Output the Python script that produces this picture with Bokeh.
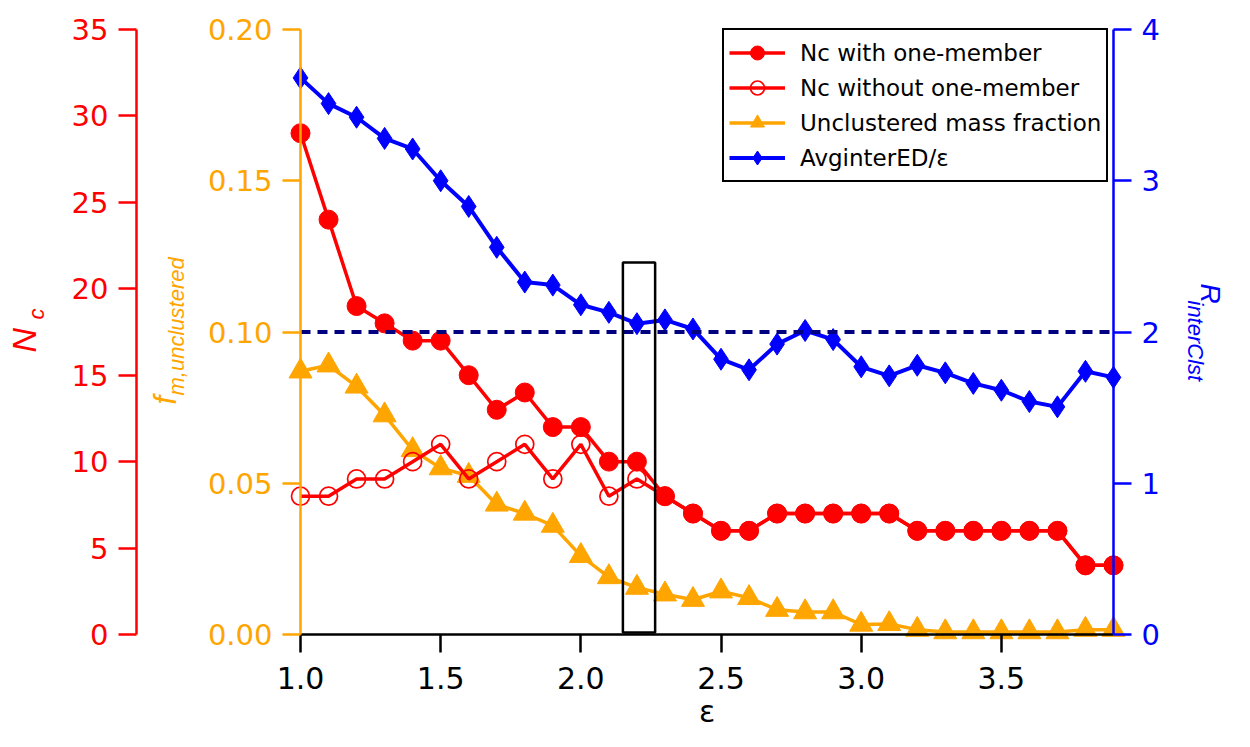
import math
from bokeh.plotting import figure
from bokeh.models import (Range1d, LinearAxis, FixedTicker, PrintfTickFormatter,
                          Label, Legend, LegendItem, BoxAnnotation)
from bokeh.embed import file_html
from bokeh.resources import INLINE

# ---------------- data ----------------
eps = [1.0, 1.1, 1.2, 1.3, 1.4, 1.5, 1.6, 1.7, 1.8, 1.9,
       2.0, 2.1, 2.2, 2.3, 2.4, 2.5, 2.6, 2.7, 2.8, 2.9,
       3.0, 3.1, 3.2, 3.3, 3.4, 3.5, 3.6, 3.7, 3.8, 3.9]
nc_with_one = [29, 24, 19, 18, 17, 17, 15, 13, 14, 12,
               12, 10, 10, 8, 7, 6, 6, 7, 7, 7,
               7, 7, 6, 6, 6, 6, 6, 6, 4, 4]
nc_without_one = [8, 8, 9, 9, 10, 11, 9, 10, 11, 9,
                  11, 8, 9, 8, 7, 6, 6, 7, 7, 7,
                  7, 7, 6, 6, 6, 6, 6, 6, 4, 4]
f_unclustered = [0.087, 0.089, 0.082, 0.0725, 0.061, 0.055, 0.0525, 0.043, 0.040, 0.036,
                 0.026, 0.019, 0.0155, 0.0133, 0.0115, 0.0143, 0.0121, 0.0082, 0.0074, 0.0074,
                 0.0033, 0.0035, 0.0016, 0.0008, 0.0008, 0.0008, 0.0008, 0.0008, 0.0016, 0.0016]
r_interclst = [3.68, 3.51, 3.42, 3.28, 3.21, 3.00, 2.83, 2.56, 2.33, 2.31,
               2.18, 2.13, 2.055, 2.08, 2.02, 1.82, 1.75, 1.92, 2.01, 1.95,
               1.77, 1.71, 1.78, 1.73, 1.66, 1.615, 1.54, 1.505, 1.74, 1.70]
r_threshold = 2.0
highlight_eps = (2.15, 2.265)
highlight_f = (0.0007, 0.123)

x_ticks = [1.0, 1.5, 2.0, 2.5, 3.0, 3.5]
nc_ticks = [0, 5, 10, 15, 20, 25, 30, 35]
f_ticks = [0.0, 0.05, 0.10, 0.15, 0.20]
r_ticks = [0, 1, 2, 3, 4]

legend_labels = ["Nc with one-member", "Nc without one-member",
                 "Unclustered mass fraction", "AvginterED/\u03b5"]

# ---------------- layout ----------------
RED, ORANGE, BLUE, NAVY = "#FF0000", "#FFA500", "#0000FF", "#000080"
FIG_W, FIG_H = 1234, 731
X0_FX, X1_FX = 300, 1113      # px of first / last epsilon
Y0_FY, Y1_FY = 634, 29        # px of y = 0 / top of the y axes
x_lo, x_hi = eps[0], eps[-1]
f_top, nc_top, r_top = f_ticks[-1], nc_ticks[-1], r_ticks[-1]
ppx = (X1_FX - X0_FX) / (x_hi - x_lo)
ppf = (Y0_FY - Y1_FY) / f_top
ppn = (Y0_FY - Y1_FY) / nc_top
ppr = (Y0_FY - Y1_FY) / r_top


def px_to_data(px, py):
    return x_lo + (px - X0_FX) / ppx, (Y0_FY - py) / ppf


# the frame covers the whole canvas so that nothing (axes, titles, edge markers) is clipped
p = figure(width=FIG_W, height=FIG_H, output_backend="svg", toolbar_location=None,
           x_axis_location=None, y_axis_location=None, title=None,
           x_range=Range1d(x_lo - X0_FX / ppx, x_lo + (FIG_W - X0_FX) / ppx),
           y_range=Range1d((Y0_FY - FIG_H) / ppf, Y0_FY / ppf),
           min_border_left=0, min_border_right=0, min_border_top=0, min_border_bottom=0)
p.extra_y_ranges = {"nc": Range1d((Y0_FY - FIG_H) / ppn, Y0_FY / ppn),
                    "r": Range1d((Y0_FY - FIG_H) / ppr, Y0_FY / ppr)}
p.outline_line_color = None
p.grid.visible = False
p.background_fill_color = "white"
p.border_fill_color = "white"


def style_axis(ax, color, size):
    ax.axis_line_color = color
    ax.axis_line_width = 2.5
    ax.major_tick_line_color = color
    ax.major_tick_line_width = 2.5
    ax.major_tick_out = 18
    ax.major_tick_in = 0
    ax.minor_tick_line_color = None
    ax.major_label_text_color = color
    ax.major_label_text_font = "DejaVu Sans"
    ax.major_label_text_font_size = size
    ax.major_label_standoff = 10


# x axis
xa = LinearAxis(fixed_location=0.0, bounds=(x_lo, x_hi), ticker=FixedTicker(ticks=x_ticks),
                formatter=PrintfTickFormatter(format="%.1f"), axis_label="\u03b5")
style_axis(xa, "black", "30px")
xa.major_label_standoff = 14
xa.axis_label_text_font = "DejaVu Sans"
xa.axis_label_text_font_style = "normal"
xa.axis_label_text_font_size = "30px"
xa.axis_label_text_color = "black"
xa.axis_label_standoff = 2
p.add_layout(xa, "below")

# orange axis (f)
fa = LinearAxis(fixed_location=x_lo, bounds=(0, f_top), ticker=FixedTicker(ticks=f_ticks),
                formatter=PrintfTickFormatter(format="%.2f"))
style_axis(fa, ORANGE, "29px")
p.add_layout(fa, "left")

# red axis (Nc)
red_axis_x, _ = px_to_data(136, 0)
na = LinearAxis(fixed_location=red_axis_x, y_range_name="nc", bounds=(0, nc_top),
                ticker=FixedTicker(ticks=nc_ticks))
style_axis(na, RED, "29px")
p.add_layout(na, "left")

# blue axis (R)
ra = LinearAxis(fixed_location=x_hi, y_range_name="r", bounds=(0, r_top),
                ticker=FixedTicker(ticks=r_ticks))
style_axis(ra, BLUE, "29px")
p.add_layout(ra, "right")

# ---------------- series ----------------
lw = 3.5
o_line = p.line(eps, f_unclustered, color=ORANGE, line_width=lw)
o_pts = p.scatter(eps, f_unclustered, marker="triangle", size=23, color=ORANGE)

r2_line = p.line(eps, nc_without_one, color=RED, line_width=lw, y_range_name="nc")
r2_pts = p.scatter(eps, nc_without_one, marker="circle", size=18, fill_color=None,
                   line_color=RED, line_width=1.7, y_range_name="nc")

r1_line = p.line(eps, nc_with_one, color=RED, line_width=lw, y_range_name="nc")
r1_pts = p.scatter(eps, nc_with_one, marker="circle", size=19, color=RED, y_range_name="nc")

b_line = p.line(eps, r_interclst, color=BLUE, line_width=4, y_range_name="r")
b_pts = p.scatter(eps, r_interclst, marker="diamond", size=22, color=BLUE, y_range_name="r")

p.line([x_lo, x_hi], [r_threshold, r_threshold], color=NAVY, line_width=4,
       line_dash="10 7", y_range_name="r")

p.add_layout(BoxAnnotation(left=highlight_eps[0], right=highlight_eps[1],
                           bottom=highlight_f[0], top=highlight_f[1],
                           fill_color=None, fill_alpha=0, line_color="black",
                           line_alpha=1.0, line_width=2.5))

# ---------------- axis titles (with subscripts) ----------------
TF = "Liberation Sans"


def title(text, px, py, size, color, angle):
    x, y = px_to_data(px, py)
    p.add_layout(Label(x=x, y=y, text=text, angle=angle, text_font=TF,
                       text_font_style="italic", text_font_size=size, text_color=color,
                       text_align="left", text_baseline="alphabetic"))


title("N", 23, 352, "34px", RED, math.pi / 2)
title("c", 36, 319, "22px", RED, math.pi / 2)
title("f", 165, 404, "31px", ORANGE, math.pi / 2)
title("m,unclustered", 176, 395, "22px", ORANGE, math.pi / 2)
title("R", 1210, 283, "28px", BLUE, -math.pi / 2)
title("interClst", 1195, 300, "22px", BLUE, -math.pi / 2)

# ---------------- legend ----------------
legend = Legend(items=[
    LegendItem(label=legend_labels[0], renderers=[r1_line, r1_pts]),
    LegendItem(label=legend_labels[1], renderers=[r2_line, r2_pts]),
    LegendItem(label=legend_labels[2], renderers=[o_line, o_pts]),
    LegendItem(label=legend_labels[3], renderers=[b_line, b_pts]),
], location=(722, 549))
legend.border_line_color = "black"
legend.border_line_alpha = 1.0
legend.border_line_width = 2
legend.background_fill_color = "white"
legend.background_fill_alpha = 1.0
legend.padding = 5
legend.spacing = 0
legend.margin = 0
legend.glyph_width = 56
legend.glyph_height = 35
legend.label_standoff = 15
legend.label_text_font = "DejaVu Sans"
legend.label_text_font_size = "23px"
legend.label_text_color = "black"
p.add_layout(legend)

open("out.html", "w").write(file_html(p, INLINE))
